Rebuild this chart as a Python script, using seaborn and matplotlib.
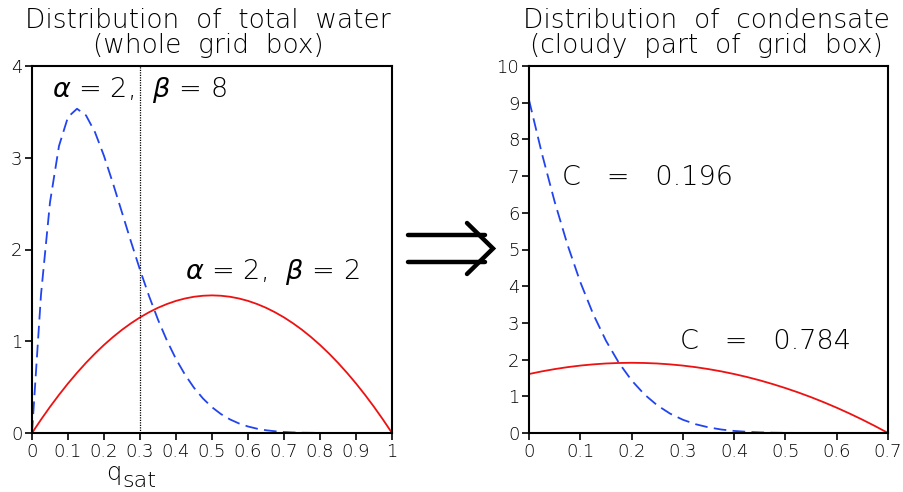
import matplotlib
matplotlib.use("Agg")
import matplotlib.pyplot as plt
import seaborn as sns
from matplotlib.lines import Line2D

sns.set_theme(style="white")
plt.rcParams['font.family'] = ['DejaVu Sans']
plt.rcParams['font.weight'] = 'light'
plt.rcParams['mathtext.fontset'] = 'custom'
plt.rcParams['mathtext.rm'] = 'DejaVu Sans:light'
plt.rcParams['mathtext.it'] = 'DejaVu Sans:italic'

# ---- data ----
x_left = [0.000, 0.025, 0.050, 0.075, 0.100, 0.125, 0.150, 0.175, 0.200, 0.225,
          0.250, 0.275, 0.300, 0.325, 0.350, 0.375, 0.400, 0.425, 0.450, 0.475,
          0.500, 0.525, 0.550, 0.575, 0.600, 0.625, 0.650, 0.675, 0.700, 0.725,
          0.750, 0.775, 0.800, 0.825, 0.850, 0.875, 0.900, 0.925, 0.950, 0.975, 1.000]
blue_left = [0.000, 1.508, 2.514, 3.129, 3.444, 3.534, 3.462, 3.278, 3.020, 2.720,
             2.403, 2.085, 1.779, 1.494, 1.235, 1.006, 0.806, 0.636, 0.493, 0.376,
             0.281, 0.206, 0.148, 0.104, 0.071, 0.047, 0.030, 0.019, 0.011, 0.006,
             0.003, 0.002, 0.001, 0.000, 0.000, 0.000, 0.000, 0.000, 0.000, 0.000, 0.000]
red_left = [0.000, 0.146, 0.285, 0.416, 0.540, 0.656, 0.765, 0.866, 0.960, 1.046,
            1.125, 1.196, 1.260, 1.316, 1.365, 1.406, 1.440, 1.466, 1.485, 1.496,
            1.500, 1.496, 1.485, 1.466, 1.440, 1.406, 1.365, 1.316, 1.260, 1.196,
            1.125, 1.046, 0.960, 0.866, 0.765, 0.656, 0.540, 0.416, 0.285, 0.146, 0.000]

x_right = [0.000, 0.025, 0.050, 0.075, 0.100, 0.125, 0.150, 0.175, 0.200, 0.225,
           0.250, 0.275, 0.300, 0.325, 0.350, 0.375, 0.400, 0.425, 0.450, 0.475,
           0.500, 0.525, 0.550, 0.575, 0.600, 0.625, 0.650, 0.675, 0.700]
blue_right = [9.076, 7.623, 6.303, 5.132, 4.113, 3.245, 2.517, 1.918, 1.435, 1.052,
              0.755, 0.529, 0.361, 0.239, 0.154, 0.095, 0.056, 0.032, 0.017, 0.008,
              0.004, 0.002, 0.001, 0.000, 0.000, 0.000, 0.000, 0.000, 0.000]
red_right = [1.607, 1.679, 1.741, 1.794, 1.837, 1.870, 1.894, 1.908, 1.913, 1.908,
             1.894, 1.870, 1.837, 1.794, 1.741, 1.679, 1.607, 1.526, 1.435, 1.334,
             1.224, 1.105, 0.976, 0.837, 0.689, 0.531, 0.364, 0.187, 0.000]

q_threshold = 0.3
left_xticks = [0.0, 0.1, 0.2, 0.3, 0.4, 0.5, 0.6, 0.7, 0.8, 0.9, 1.0]
left_xticklabels = ["0", "0.1", "0.2", "0.3", "0.4", "0.5", "0.6", "0.7", "0.8", "0.9", "1"]
left_yticks = [0, 1, 2, 3, 4]
right_xticks = [0.0, 0.1, 0.2, 0.3, 0.4, 0.5, 0.6, 0.7]
right_xticklabels = ["0", "0.1", "0.2", "0.3", "0.4", "0.5", "0.6", "0.7"]
right_yticks = [0, 1, 2, 3, 4, 5, 6, 7, 8, 9, 10]

BLUE = "#2244ee"
RED = "#ee1111"
DASH = (0, (7, 3.5))

fig = plt.figure(figsize=(9.04, 4.92), dpi=100)
W, H = 904, 492
axL = fig.add_axes([32 / W, (H - 433) / H, 360 / W, 367 / H])
axR = fig.add_axes([529 / W, (H - 433) / H, 359 / W, 367 / H])

sns.lineplot(x=x_left, y=red_left, ax=axL, color=RED, linewidth=1.3)
sns.lineplot(x=x_left, y=blue_left, ax=axL, color=BLUE, linewidth=1.3, linestyle=DASH)
axL.axvline(q_threshold, color="black", linestyle=(0, (1, 1)), linewidth=0.9)

sns.lineplot(x=x_right, y=red_right, ax=axR, color=RED, linewidth=1.3)
sns.lineplot(x=x_right, y=blue_right, ax=axR, color=BLUE, linewidth=1.3, linestyle=DASH)

for ax, xt, xtl, yt, xmax, ymax in [
        (axL, left_xticks, left_xticklabels, left_yticks, 1.0, 4),
        (axR, right_xticks, right_xticklabels, right_yticks, 0.7, 10)]:
    ax.set_xlim(0, xmax)
    ax.set_ylim(0, ymax)
    ax.set_xticks(xt)
    ax.set_xticklabels(xtl)
    ax.set_yticks(yt)
    ax.tick_params(axis="both", direction="out", length=5, width=1.2,
                   color="black", labelsize=13, labelcolor="black", pad=2,
                   bottom=True, left=True)
    for s in ax.spines.values():
        s.set_color("black")
        s.set_linewidth(1.5)
    ax.set_xlabel("")
    ax.set_ylabel("")
    ax.grid(False)

txt_kw = dict(fontsize=19.5, color="black", fontweight="light")
axL.text(0.056, 3.74, r"$\alpha$ = 2,  $\beta$ = 8", va="center", ha="left", **txt_kw)
axL.text(0.425, 1.755, r"$\alpha$ = 2,  $\beta$ = 2", va="center", ha="left", **txt_kw)
axR.text(0.064, 6.95, "C   =   0.196", va="center", ha="left", **txt_kw)
axR.text(0.294, 2.48, "C   =   0.784", va="center", ha="left", **txt_kw)

title_kw = dict(fontsize=19, color="black", ha="center", va="center", fontweight="light")
fig.text(208 / W, 1 - 20 / H, "Distribution  of  total  water", **title_kw)
fig.text(208 / W, 1 - 45 / H, "(whole  grid  box)", **title_kw)
fig.text(706 / W, 1 - 20 / H, "Distribution  of  condensate", **title_kw)
fig.text(706 / W, 1 - 45 / H, "(cloudy  part  of  grid  box)", **title_kw)

# x label q_sat (GrADS style: subscript nearly full size)
fig.text(106 / W, 1 - 480 / H, "q", fontsize=17.5, ha="left", va="baseline", color="black")
fig.text(122 / W, 1 - 487 / H, "sat", fontsize=16, ha="left", va="baseline", color="black")

# double arrow between panels
def fx(px):
    return px / W

def fy(py):
    return 1 - py / H

for yy in (235, 262):
    fig.add_artist(Line2D([fx(408), fx(485)], [fy(yy), fy(yy)], color="black",
                          linewidth=3.2, solid_capstyle="round"))
fig.add_artist(Line2D([fx(467), fx(493), fx(467)], [fy(223), fy(248.5), fy(274)],
                      color="black", linewidth=3.2, solid_capstyle="round",
                      solid_joinstyle="miter"))

fig.savefig("out.png", dpi=100)
